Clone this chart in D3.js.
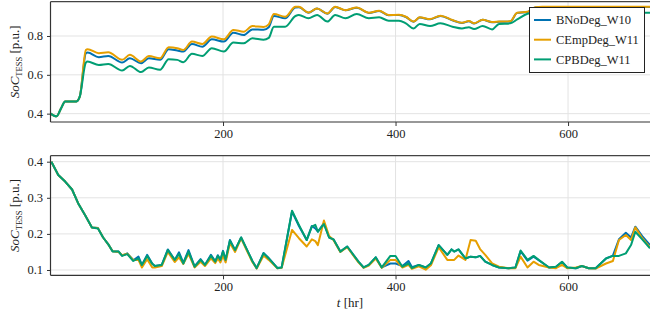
<!DOCTYPE html>
<html>
<head>
<meta charset="utf-8">
<script src="https://cdn.jsdelivr.net/npm/d3@7/dist/d3.min.js"></script>
<style>
body { margin: 0; background: #fff; }
svg text { font-family: "Liberation Serif", "DejaVu Serif", serif; }
</style>
</head>
<body>
<svg id="canvas"></svg>
<script>
// series names + colours
const seriesNames = ["BNoDeg_W10", "CEmpDeg_W11", "CPBDeg_W11"];
const seriesColors = ["#0072B2", "#E69F00", "#009E73"];
const FONT = '"Liberation Serif", "DejaVu Serif", serif';

// top panel (hours / SoC values)
const hoursTop = [0,7,12,17,30,34,41,43,56,67,
    83,92,105,114,127,137,147,154,164,176,
    187,201,212,224,234,247,253,259,272,284,
    288,299,309,321,330,342,355,369,381,392,
    404,412,421,428,440,452,466,477,485,491,
    501,512,520,533,541,553,562,570,696];
const noDegTop = [.400,.386,.425,.463,.463,.489,.711,.715,.691,.697,
    .663,.685,.660,.685,.677,.732,.725,.720,.759,.745,
    .783,.771,.817,.805,.834,.832,.845,.903,.891,.947,
    .948,.920,.941,.915,.949,.932,.946,.919,.929,.907,
    .908,.898,.873,.895,.886,.903,.881,.867,.876,.864,
    .883,.871,.873,.875,.919,.924,.947,.949,.949];
const empDegTop = [.400,.386,.425,.463,.463,.489,.728,.732,.711,.716,
    .677,.703,.668,.697,.685,.742,.737,.728,.771,.759,
    .797,.783,.831,.822,.851,.846,.860,.913,.899,.950,
    .950,.921,.942,.916,.950,.933,.947,.920,.930,.908,
    .909,.899,.874,.896,.887,.904,.882,.868,.877,.865,
    .884,.872,.874,.876,.920,.925,.948,.950,.950];
const pbDegTop = [.400,.386,.425,.463,.463,.489,.663,.668,.651,.656,
    .622,.646,.614,.638,.626,.680,.677,.665,.708,.697,
    .737,.720,.766,.762,.788,.781,.790,.848,.848,.903,
    .908,.891,.908,.874,.908,.891,.913,.891,.896,.879,
    .879,.865,.839,.862,.851,.865,.848,.839,.845,.836,
    .851,.834,.862,.865,.885,.915,.920,.920,.920];

// bottom panel
const hoursBot = [1,9,17,25,32,40,48,55,61,67,
    72,79,83,89,96,102,106,112,118,121,
    129,136,144,149,154,160,167,174,179,186,
    191,194,197,200,203,208,214,221,228,234,
    239,247,253,263,268,280,288,297,303,307,
    310,317,323,328,336,344,357,363,369,377,
    384,394,400,408,415,419,427,435,441,450,
    460,465,468,473,481,487,493,498,504,512,
    520,531,539,545,553,560,566,578,586,593,
    599,609,616,624,632,644,652,659,667,673,
    678,686,695];
const noDegBot = [.400,.363,.345,.323,.285,.252,.218,.216,.190,.171,
    .152,.151,.140,.146,.127,.137,.114,.142,.117,.111,
    .114,.157,.128,.149,.120,.155,.110,.130,.114,.142,
    .124,.141,.128,.153,.128,.183,.155,.190,.155,.125,
    .105,.147,.133,.106,.107,.262,.222,.183,.222,.215,
    .206,.230,.190,.185,.151,.165,.123,.107,.114,.135,
    .107,.118,.118,.111,.125,.108,.114,.107,.118,.169,
    .142,.157,.151,.157,.132,.137,.135,.139,.123,.114,
    .107,.105,.107,.152,.126,.137,.127,.107,.109,.122,
    .107,.105,.111,.105,.105,.132,.140,.185,.203,.190,
    .220,.194,.169];
const empDegBot = [.400,.363,.345,.323,.285,.252,.218,.216,.190,.171,
    .152,.150,.141,.145,.128,.128,.107,.130,.107,.107,
    .111,.150,.122,.135,.117,.145,.107,.123,.111,.132,
    .119,.132,.121,.140,.121,.175,.150,.188,.152,.122,
    .104,.140,.128,.105,.106,.211,.188,.165,.185,.180,
    .169,.237,.194,.183,.150,.163,.121,.106,.112,.132,
    .106,.128,.128,.107,.114,.103,.110,.101,.113,.163,
    .128,.128,.128,.140,.128,.183,.181,.158,.142,.118,
    .109,.105,.105,.137,.107,.123,.114,.107,.105,.114,
    .105,.107,.111,.105,.104,.118,.125,.183,.197,.183,
    .218,.188,.163];
const pbDegBot = [.400,.363,.345,.323,.285,.252,.218,.215,.190,.171,
    .151,.151,.139,.144,.125,.132,.114,.139,.117,.111,
    .114,.155,.128,.144,.118,.151,.109,.128,.114,.139,
    .123,.139,.128,.151,.128,.181,.155,.190,.155,.125,
    .105,.146,.132,.105,.107,.264,.225,.183,.220,.225,
    .206,.227,.190,.185,.151,.165,.123,.107,.114,.135,
    .107,.139,.139,.109,.118,.105,.114,.107,.118,.169,
    .142,.157,.151,.157,.132,.137,.135,.139,.123,.114,
    .107,.105,.107,.154,.128,.139,.128,.107,.109,.123,
    .107,.105,.111,.105,.105,.132,.139,.139,.146,.169,
    .206,.185,.160];

const xTicks = [200, 400, 600];
const yTicksTop = [0.4, 0.6, 0.8];
const yTicksBot = [0.1, 0.2, 0.3, 0.4];

const width = 650, height = 320;
const svg = d3.select('svg#canvas')
    .attr('width', width)
    .attr('height', height);

const x = d3.scaleLinear().domain([0, 695]).range([50.5, 650]);

drawPanel({
    id: 'top', top: 1.7, bottom: 122, domain: [0.357, 0.9766],
    hours: hoursTop, series: [noDegTop, empDegTop, pbDegTop],
    yTicks: yTicksTop, curve: d3.curveMonotoneX, legend: true
});
drawPanel({
    id: 'bot', top: 155.7, bottom: 275.3, domain: [0.0853, 0.4166],
    hours: hoursBot, series: [noDegBot, empDegBot, pbDegBot],
    yTicks: yTicksBot, curve: d3.curveLinear, legend: false
});

// x label
const xl = svg.append('text')
    .attr('x', 350).attr('y', 307)
    .attr('text-anchor', 'middle')
    .attr('font-family', FONT)
    .attr('font-size', 13).attr('fill', '#222');
xl.append('tspan').attr('font-style', 'italic').text('t');
xl.append('tspan').text(' [hr]');

function drawPanel(p) {
    const y = d3.scaleLinear().domain(p.domain).range([p.bottom, p.top]);
    const g = svg.append('g');

    // grid
    g.selectAll('line.hgrid').data(p.yTicks).enter().append('line')
        .attr('x1', x.range()[0]).attr('x2', x.range()[1])
        .attr('y1', d => y(d)).attr('y2', d => y(d))
        .attr('stroke', '#e3e3e3').attr('stroke-width', 1);
    g.selectAll('line.vgrid').data(xTicks).enter().append('line')
        .attr('x1', d => x(d)).attr('x2', d => x(d))
        .attr('y1', p.top).attr('y2', p.bottom)
        .attr('stroke', '#e3e3e3').attr('stroke-width', 1);

    // lines
    svg.append('clipPath').attr('id', 'clip-' + p.id)
        .append('rect')
        .attr('x', x.range()[0]).attr('y', p.top)
        .attr('width', x.range()[1] - x.range()[0])
        .attr('height', p.bottom - p.top);

    const line = d3.line()
        .x((d, i) => x(p.hours[i]))
        .y(d => y(d))
        .curve(p.curve);

    g.append('g').attr('clip-path', 'url(#clip-' + p.id + ')')
        .selectAll('path').data(p.series).enter().append('path')
        .attr('d', d => line(d))
        .attr('fill', 'none')
        .attr('stroke', (d, i) => seriesColors[i])
        .attr('stroke-width', 2)
        .attr('stroke-linejoin', 'round');

    // axes
    const xAxis = d3.axisBottom(x).tickValues(xTicks).tickSize(4).tickPadding(3)
        .tickFormat(d3.format('d'));
    const ax = g.append('g').attr('transform', 'translate(0,' + p.bottom + ')').call(xAxis);
    const yAxis = d3.axisLeft(y).tickValues(p.yTicks).tickSize(3.5).tickPadding(4)
        .tickFormat(d3.format('.1f'));
    const ay = g.append('g').attr('transform', 'translate(' + x.range()[0] + ',0)').call(yAxis);
    [ax, ay].forEach(a => {
        a.attr('font-family', FONT);
        a.select('.domain').remove();
        a.selectAll('line').attr('stroke', '#333');
        a.selectAll('text').attr('font-size', 12.5).attr('fill', '#222');
    });

    // spines
    g.append('line').attr('x1', x.range()[0]).attr('x2', x.range()[1])
        .attr('y1', p.top).attr('y2', p.top).attr('stroke', '#444').attr('stroke-width', 1.2);
    g.append('line').attr('x1', x.range()[0]).attr('x2', x.range()[1])
        .attr('y1', p.bottom).attr('y2', p.bottom).attr('stroke', '#333').attr('stroke-width', 1.2);
    g.append('line').attr('x1', x.range()[0]).attr('x2', x.range()[0])
        .attr('y1', p.top).attr('y2', p.bottom).attr('stroke', '#333').attr('stroke-width', 1.2);

    // y label
    const cy = (p.top + p.bottom) / 2;
    const yl = g.append('text')
        .attr('transform', 'translate(19,' + cy + ') rotate(-90)')
        .attr('text-anchor', 'middle')
        .attr('font-family', FONT)
        .attr('font-size', 13).attr('fill', '#222');
    yl.append('tspan').attr('font-style', 'italic').text('SoC');
    yl.append('tspan').attr('font-size', 8.5).attr('dy', 2.5).text('TESS');
    yl.append('tspan').attr('dy', -2.5).text(' [p.u.]');

    if (p.legend) drawLegend(g);
}

function drawLegend(g) {
    const lg = g.append('g');
    lg.append('rect')
        .attr('x', 529.5).attr('y', 7.5).attr('width', 115).attr('height', 65)
        .attr('fill', '#fff').attr('stroke', '#222').attr('stroke-width', 1);
    const rows = lg.selectAll('g.entry').data(seriesNames).enter().append('g')
        .attr('transform', (d, i) => 'translate(0,' + (20 + i * 19.7) + ')');
    rows.append('line')
        .attr('x1', 534).attr('x2', 551)
        .attr('stroke', (d, i) => seriesColors[i]).attr('stroke-width', 2);
    rows.append('text')
        .attr('x', 556).attr('dy', '0.35em')
        .attr('font-family', FONT)
        .attr('font-size', 12.5).attr('fill', '#222')
        .text(d => d);
}
</script>
</body>
</html>
